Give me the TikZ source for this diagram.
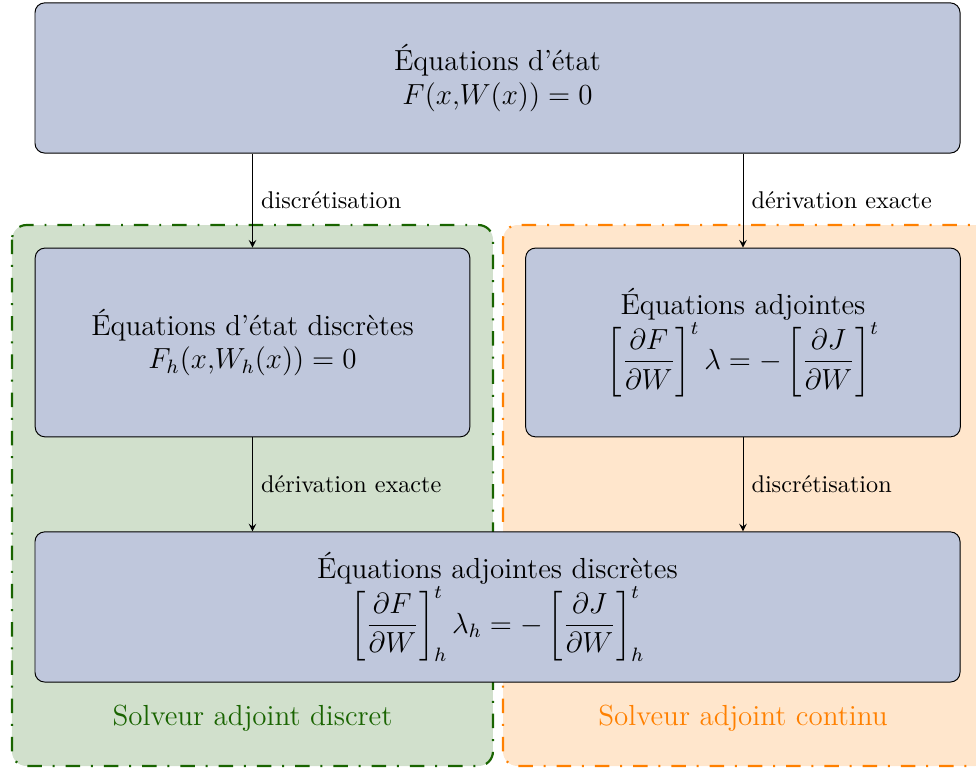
\documentclass[tikz,border=0pt]{standalone}
\usepackage{amsmath}
\usepackage{fontspec}
\usetikzlibrary{calc}

\definecolor{boxblue}{RGB}{191,199,220}
\definecolor{discgreen}{RGB}{25,100,0}
\definecolor{contorange}{RGB}{255,128,0}

\begin{document}
\begin{tikzpicture}[>=stealth]
	% --- Dimensions ---
	\def\wideW{13.43}
	\def\wideH{2.18}
	\def\halfW{6.31}
	\def\halfH{2.74}

	% --- Styles ---
	\tikzset{
		eqbox/.style={draw=black, fill=boxblue, rounded corners=4pt, align=center, font=\large},
		solver/.style={line width=0.9pt, rounded corners=6pt, dash pattern=on 6pt off 4.5pt on 0.8pt off 4.5pt},
		lbl/.style={right, midway}
	}

	\useasboundingbox (0,0) rectangle (14.17,-11.165);

	% --- Solveurs ---
	\draw[solver, draw=discgreen, fill=discgreen!20] (0.174,-3.267) rectangle (7.157,-11.121);
	\draw[solver, draw=contorange, fill=contorange!20] (7.303,-3.267) rectangle (14.37,-11.121);
	\node[text=discgreen, font=\large] (solvdisc) at (3.666,-10.424) {Solveur adjoint discret};
	\node[text=contorange, font=\large] (solvcont) at (10.787,-10.424) {Solveur adjoint continu};

	% --- Equations ---
	\node[eqbox, minimum width=\wideW cm, minimum height=\wideH cm] (etat) at (7.223,-1.132)
		{Équations d'état\\ $F(x{,}W(x)) = 0$};
	\node[eqbox, minimum width=\halfW cm, minimum height=\halfH cm] (etatdisc) at (3.666,-4.972)
		{Équations d'état discrètes\\ $F_h(x{,}W_h(x)) = 0$};
	\node[eqbox, minimum width=\halfW cm, minimum height=\halfH cm] (adj) at (10.787,-4.972)
		{Équations adjointes\\ $\displaystyle \left[\frac{\partial F}{\partial W}\right]^t \lambda = -\left[\frac{\partial J}{\partial W}\right]^t$};
	\node[eqbox, minimum width=\wideW cm, minimum height=\wideH cm] (adjdisc) at (7.223,-8.812)
		{Équations adjointes discrètes\\ $\displaystyle \left[\frac{\partial F}{\partial W}\right]^t_h \lambda_h = -\left[\frac{\partial J}{\partial W}\right]^t_h$};

	% --- Fleches ---
	\draw[->] (etat.south -| etatdisc.north) -- (etatdisc.north) node[lbl] {discrétisation};
	\draw[->] (etat.south -| adj.north) -- (adj.north) node[lbl] {dérivation exacte};
	\draw[->] (etatdisc.south) -- (etatdisc.south |- adjdisc.north) node[lbl] {dérivation exacte};
	\draw[->] (adj.south) -- (adj.south |- adjdisc.north) node[lbl] {discrétisation};
\end{tikzpicture}
\end{document}
